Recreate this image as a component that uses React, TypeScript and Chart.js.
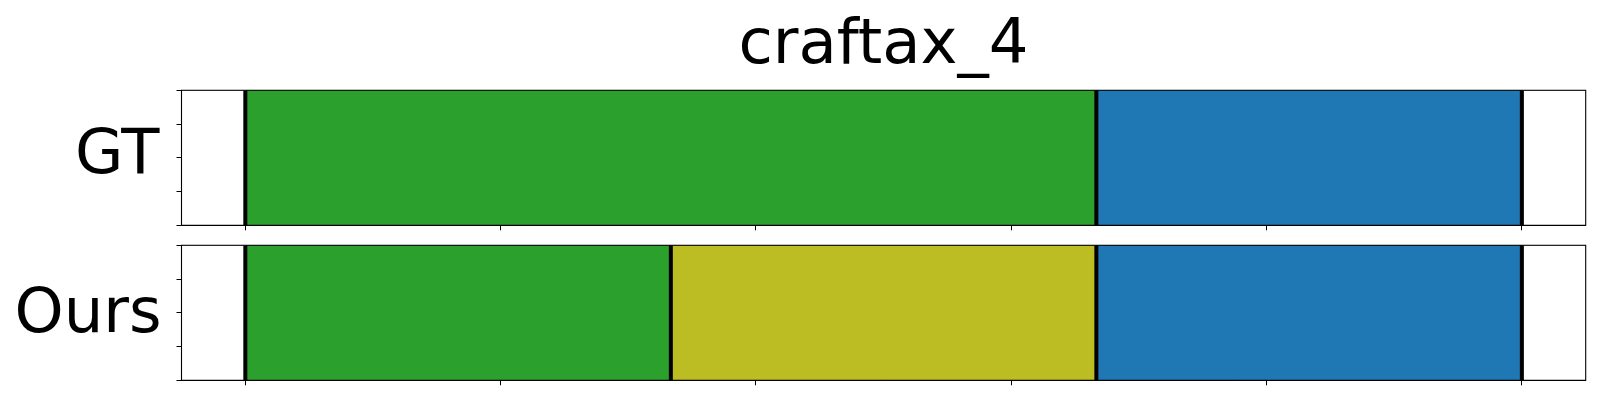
import React, { useEffect, useRef } from "react";
import { Chart, registerables } from "chart.js";

Chart.register(...registerables);

// ---- data ----
const TITLE = "craftax_4";
const ROW_LABELS = ["GT", "Ours"];
const TOTAL_STEPS = 300;
const X_TICKS = [0, 60, 120, 180, 240, 300];
const Y_TICKS = [0, 1, 2, 3, 4];
const GT_BOUNDS = [0, 200, 300];
const GT_COLORS = ["#2ca02c", "#1f77b4"];
const OURS_BOUNDS = [0, 100, 200, 300];
const OURS_COLORS = ["#2ca02c", "#bcbd22", "#1f77b4"];

const X_MARGIN = TOTAL_STEPS * 0.05;
const FONT = '62.5px "DejaVu Sans"';

type TextItem = { text: string; x: number; y: number; align: CanvasTextAlign };

function buildDatasets(bounds: number[], colors: string[]) {
  const bars = colors.map((c, i) => ({
    type: "bar" as const,
    label: "seg" + i,
    data: [[bounds[i], bounds[i + 1]]],
    backgroundColor: c,
    borderWidth: 0,
    yAxisID: "y",
    grouped: false,
    barPercentage: 1,
    categoryPercentage: 1,
    order: 2,
  }));
  const lines = bounds.map((b, i) => ({
    type: "line" as const,
    label: "b" + i,
    data: [
      { x: b, y: Y_TICKS[0] },
      { x: b, y: Y_TICKS[Y_TICKS.length - 1] },
    ],
    borderColor: "#000000",
    borderWidth: 4,
    pointRadius: 0,
    yAxisID: "y2",
    order: 0,
  }));
  return [...bars, ...lines];
}

function makeConfig(
  label: string,
  bounds: number[],
  colors: string[],
  padding: { left: number; right: number; top: number; bottom: number },
  texts: TextItem[]
): any {
  const framePlugin = {
    id: "frame" + label,
    afterDraw(chart: any) {
      const { ctx, chartArea } = chart;
      ctx.save();
      ctx.strokeStyle = "#000";
      ctx.lineWidth = 1.1;
      ctx.strokeRect(
        chartArea.left,
        chartArea.top,
        chartArea.right - chartArea.left,
        chartArea.bottom - chartArea.top
      );
      ctx.fillStyle = "#000";
      ctx.font = FONT;
      ctx.textBaseline = "alphabetic";
      texts.forEach((t) => {
        ctx.textAlign = t.align;
        ctx.fillText(t.text, t.x, t.y);
      });
      ctx.restore();
    },
  };
  return {
    type: "bar",
    data: { labels: [label], datasets: buildDatasets(bounds, colors) },
    options: {
      indexAxis: "y",
      animation: false,
      responsive: false,
      maintainAspectRatio: false,
      devicePixelRatio: 1,
      layout: { padding },
      plugins: { legend: { display: false }, tooltip: { enabled: false }, title: { display: false } },
      scales: {
        x: {
          type: "linear",
          position: "bottom",
          offset: false,
          min: X_TICKS[0] - X_MARGIN,
          max: X_TICKS[X_TICKS.length - 1] + X_MARGIN,
          afterBuildTicks: (s: any) => {
            s.ticks = X_TICKS.map((v) => ({ value: v }));
          },
          ticks: { display: false },
          grid: { offset: false, drawOnChartArea: false, drawTicks: true, tickLength: 5, tickWidth: 1, tickColor: "#000" },
          border: { display: true, color: "#000", width: 1 },
        },
        y: {
          type: "category",
          display: false,
          offset: true,
        },
        y2: {
          type: "linear",
          position: "left",
          offset: false,
          min: Y_TICKS[0],
          max: Y_TICKS[Y_TICKS.length - 1],
          afterBuildTicks: (s: any) => {
            s.ticks = Y_TICKS.map((v) => ({ value: v }));
          },
          ticks: { display: false },
          grid: { offset: false, drawOnChartArea: false, drawTicks: true, tickLength: 5, tickWidth: 1, tickColor: "#000" },
          border: { display: true, color: "#000", width: 1 },
        },
      },
    },
    plugins: [framePlugin],
  };
}

export default function App() {
  const ref1 = useRef<HTMLCanvasElement>(null);
  const ref2 = useRef<HTMLCanvasElement>(null);

  useEffect(() => {
    const c1 = new Chart(
      ref1.current as HTMLCanvasElement,
      makeConfig(
        ROW_LABELS[0],
        GT_BOUNDS,
        GT_COLORS,
        { left: 176.5, right: 14.3, top: 90.3, bottom: 169.7 },
        [
          { text: TITLE, x: 883.5, y: 63, align: "center" },
          { text: ROW_LABELS[0], x: 159.5, y: 173, align: "right" },
        ]
      )
    );
    const c2 = new Chart(
      ref2.current as HTMLCanvasElement,
      makeConfig(
        ROW_LABELS[1],
        OURS_BOUNDS,
        OURS_COLORS,
        { left: 176.5, right: 14.3, top: 245.3, bottom: 14.7 },
        [{ text: ROW_LABELS[1], x: 161.5, y: 332, align: "right" }]
      )
    );
    return () => {
      c1.destroy();
      c2.destroy();
    };
  }, []);

  const canvasStyle: React.CSSProperties = {
    position: "absolute",
    left: 0,
    top: 0,
    width: 1600,
    height: 400,
  };

  return (
    <div style={{ position: "fixed", left: 0, top: 0, width: 1600, height: 400, background: "#fff" }}>
      <canvas ref={ref1} width={1600} height={400} style={canvasStyle} />
      <canvas ref={ref2} width={1600} height={400} style={canvasStyle} />
    </div>
  );
}
